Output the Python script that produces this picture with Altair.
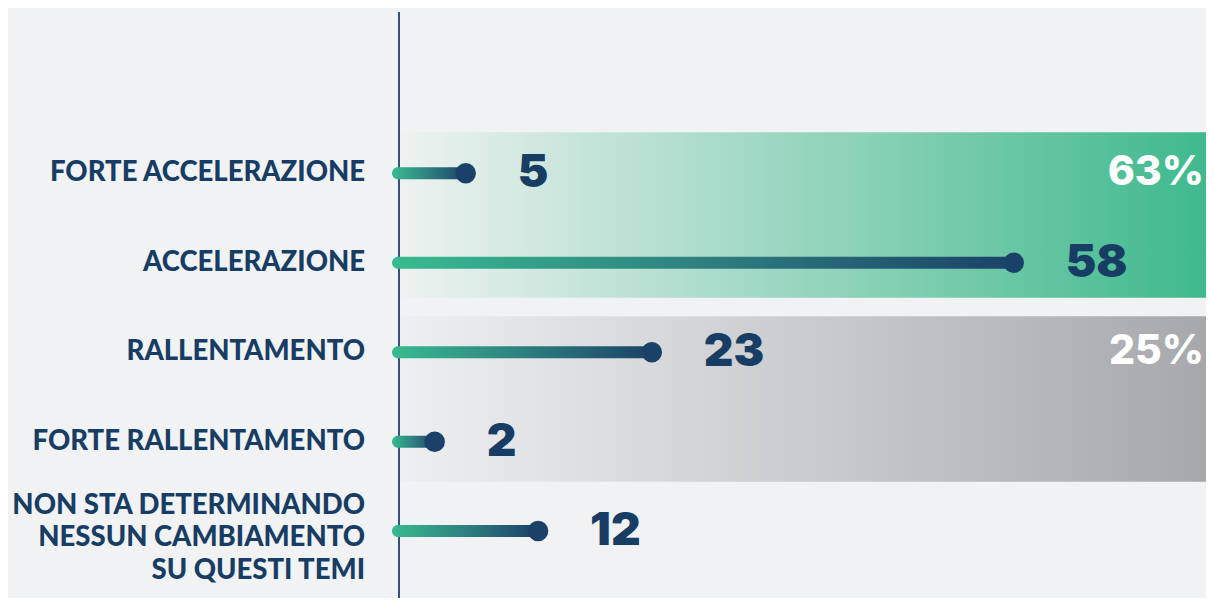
import altair as alt
import pandas as pd

# ---- data ----
categories = [
    "FORTE ACCELERAZIONE",
    "ACCELERAZIONE",
    "RALLENTAMENTO",
    "FORTE RALLENTAMENTO",
    "NON STA DETERMINANDO\nNESSUN CAMBIAMENTO\nSU QUESTI TEMI",
]
values = [5, 58, 23, 2, 12]

group_labels = ["63%", "25%"]
group_first = ["FORTE ACCELERAZIONE", "RALLENTAMENTO"]
group_last = ["ACCELERAZIONE", "FORTE RALLENTAMENTO"]
group_kind = ["up", "down"]

# ---- styling / layout ----
BG = "#f1f2f4"
NAVY = "#183d64"
PLOT_LEFT = 414          # page x of value 0
RIGHT_EDGE = 1206
BOTTOM_EDGE = 598
WIDTH = RIGHT_EDGE - PLOT_LEFT
TOP = 12
HEIGHT = BOTTOM_EDGE - TOP
X_MAX = WIDTH / 10.34
ROW0, ROW_STEP = 171, 91
Y_MIN = (TOP - ROW0) / ROW_STEP
Y_MAX = (BOTTOM_EDGE - ROW0) / ROW_STEP
LINE_H = 32.5
LINE_SHIFT = 13  # px shift per extra line for multi-line labels

df = pd.DataFrame({"cat": categories, "value": values, "start": 0,
                   "row": list(range(len(categories)))})
row_of = {c: i for i, c in enumerate(categories)}
gdf = pd.DataFrame({
    "label": group_labels,
    "first": [row_of[c] for c in group_first],
    "last": [row_of[c] for c in group_last],
    "kind": group_kind,
    "x0": 0,
})

xs = alt.Scale(domain=[0, X_MAX], nice=False, zero=False)
ys = alt.Scale(domain=[Y_MIN, Y_MAX], reverse=True, nice=False, zero=False)
X = lambda f: alt.X(f, type="quantitative", scale=xs, axis=None)
Y = lambda f: alt.Y(f, type="quantitative", scale=ys, axis=None)

def grad(c0, c1, mid=None):
    stops = [alt.GradientStop(color=c0, offset=0)]
    if mid:
        stops.append(alt.GradientStop(color=mid, offset=0.5))
    stops.append(alt.GradientStop(color=c1, offset=1))
    return alt.Gradient(gradient="linear", stops=stops, x1=0, x2=1, y1=0, y2=0)

base_g = alt.Chart(gdf)
band_up = base_g.transform_filter("datum.kind == 'up'").mark_rect(
    fill=grad("#eef2f1", "#3fb98d"), xOffset=-(PLOT_LEFT - 399),
    yOffset=-41, y2Offset=35,
).encode(x=X("x0"), x2=alt.value(WIDTH), y=Y("first"), y2=alt.Y2("last"))
band_down = base_g.transform_filter("datum.kind == 'down'").mark_rect(
    fill=grad("#eeeff1", "#a7a8ac"), xOffset=-(PLOT_LEFT - 399),
    yOffset=-36, y2Offset=40,
).encode(x=X("x0"), x2=alt.value(WIDTH), y=Y("first"), y2=alt.Y2("last"))

pct = base_g.mark_text(
    align="right", baseline="middle", font="Inter", fontWeight=800,
    fontSize=41, color="white",
).encode(x=alt.value(WIDTH - 2), y=Y("first"), text="label:N")

axis_line = alt.Chart(df).mark_rule(color="#34557d", strokeWidth=1.5).encode(
    x=alt.value(-(PLOT_LEFT - 399)), y=alt.value(0), y2=alt.value(HEIGHT)
)

base = alt.Chart(df)
bars = base.mark_bar(
    size=12, orient="horizontal", cornerRadius=6,
    fill=grad("#38bb8f", "#1b4268", "#2e8080"),
    xOffset=-(PLOT_LEFT - 392),
).encode(x=X("start"), x2=alt.X2("value"), y=Y("row"))

dots = base.mark_circle(size=420, color="#1a4168", opacity=1).encode(
    x=X("value"), y=Y("row")
)

vals = base.mark_text(
    align="left", baseline="middle", dx=52, font="Inter", fontWeight=900,
    fontSize=46, color=NAVY,
).encode(x=X("value"), y=Y("row"), text="value:Q")

cats = base.transform_calculate(
    label_row=f"datum.row - (length(split(datum.cat, '\\n')) - 1) * {LINE_SHIFT} / {ROW_STEP}"
).mark_text(
    align="right", baseline="middle", font="Lato", fontWeight=900,
    fontSize=27.5, color=NAVY, lineBreak="\n", lineHeight=LINE_H,
).encode(x=alt.value(365 - PLOT_LEFT), y=Y("label_row"), text="cat:N")

chart = alt.layer(band_up, band_down, pct, axis_line, bars, dots, vals, cats).properties(
    width=WIDTH, height=HEIGHT, background=BG,
    autosize=alt.AutoSizeParams(type="none"),
    padding={"left": PLOT_LEFT - 8, "top": TOP - 8, "right": 0, "bottom": 0},
).configure_view(stroke=None)

chart.save("out.html", embed_options={"renderer": "svg", "actions": False})
